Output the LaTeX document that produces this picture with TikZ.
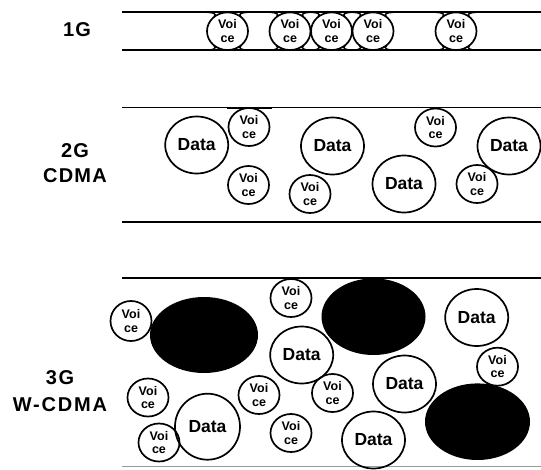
\documentclass[tikz,border=0pt]{standalone}
\usepackage{fontspec}
\setmainfont{Liberation Sans}
\usetikzlibrary{shapes.geometric}

\tikzset{
  voice/.style={ellipse, draw, line width=1.7pt, minimum width=41pt, minimum height=38pt, inner sep=0pt,
    align=center, font=\fontsize{12.5}{13.5}\selectfont\bfseries},
  data/.style={ellipse, draw, line width=1.7pt, minimum width=63pt, minimum height=57pt, inner sep=0pt,
    font=\fontsize{17.5}{17.5}\selectfont\bfseries},
  gen/.style={align=center, font=\fontsize{20}{25}\selectfont\bfseries\addfontfeature{LetterSpace=6}},
  band/.style={line width=1.8pt}
}

\begin{document}
\begin{tikzpicture}[x=1pt,y=-1pt]
	\useasboundingbox (0,0) rectangle (541,469);
	
	% 1G: voice only, one call per slot
	\draw[band] (122,12.3) -- (541,12.3);
	\draw[band] (122,50) -- (541,50);
	\node[gen] (g1) at (77,30) {1G};
	\foreach \x/\n in {227.5/a, 290/b, 331.5/c, 373/d, 456/e}{
		\node[voice, minimum height=37.7pt] (v1\n) at (\x,31.2) {Voi\\ce};
		% little fillets where the call meets the band
		\foreach \s in {1,-1}{
			\foreach \t in {1,-1}{
				\draw[line width=1.5pt] (\x-20*\s,31.2-18.9*\t) .. controls (\x-14*\s,31.2-18.9*\t) and (\x-10.2*\s,31.2-16.9*\t) .. (\x-13.5*\s,31.2-14.5*\t);
			}
		}
	}
	
	% 2G CDMA: voice and data share the band
	\draw[band] (122,107.5) -- (541,107.5);
	\draw[band] (122,221.7) -- (541,221.7);
	\draw[line width=2.4pt] (227,107.8) -- (272,107.8);
	\node[gen] (g2) at (75,163) {2G\\CDMA};
	\node[data]  (d2a) at (196.7,145) {Data};
	\node[voice] (v2a) at (249,127) {Voi\\ce};
	\node[voice] (v2b) at (248.5,185) {Voi\\ce};
	\node[data]  (d2b) at (332.5,146) {Data};
	\node[voice] (v2c) at (310,194) {Voi\\ce};
	\node[data]  (d2c) at (404,184) {Data};
	\node[voice] (v2d) at (435.5,127.5) {Voi\\ce};
	\node[voice] (v2e) at (477,184) {Voi\\ce};
	\node[data]  (d2d) at (509,146) {Data};
	
	% 3G W-CDMA: voice, data and wideband calls
	\draw[line width=2.2pt] (122,278.3) -- (541,278.3);
	\draw[black!40, line width=1pt] (122,466.7) -- (541,466.7);
	\node[gen, font=\fontsize{20}{26.5}\selectfont\bfseries\addfontfeature{LetterSpace=9}] (g3) at (60,391) {3G\\W-CDMA};
	\fill[black] (204,335) ellipse [x radius=54, y radius=38];
	\fill[black] (373.5,316.7) ellipse [x radius=52, y radius=38.3];
	\fill[black] (477.5,421.7) ellipse [x radius=52.5, y radius=38.3];
	\node[voice, minimum height=40pt] (v3a) at (131,321) {Voi\\ce};
	\node[voice] (v3b) at (291,298) {Voi\\ce};
	\node[data]  (d3a) at (476.7,317.5) {Data};
	\node[data]  (d3b) at (301.7,355) {Data};
	\node[voice] (v3c) at (497.5,366.7) {Voi\\ce};
	\node[voice] (v3d) at (148,397.5) {Voi\\ce};
	\node[voice] (v3e) at (259,395) {Voi\\ce};
	\node[voice] (v3f) at (332.5,393) {Voi\\ce};
	\node[data]  (d3c) at (404.5,384) {Data};
	\node[data, minimum width=65pt, minimum height=66pt] (d3d) at (207.5,426.7) {Data};
	\node[voice] (v3g) at (159,442.5) {Voi\\ce};
	\node[voice] (v3h) at (291,433) {Voi\\ce};
	\node[data]  (d3e) at (373.5,440) {Data};
\end{tikzpicture}
\end{document}
